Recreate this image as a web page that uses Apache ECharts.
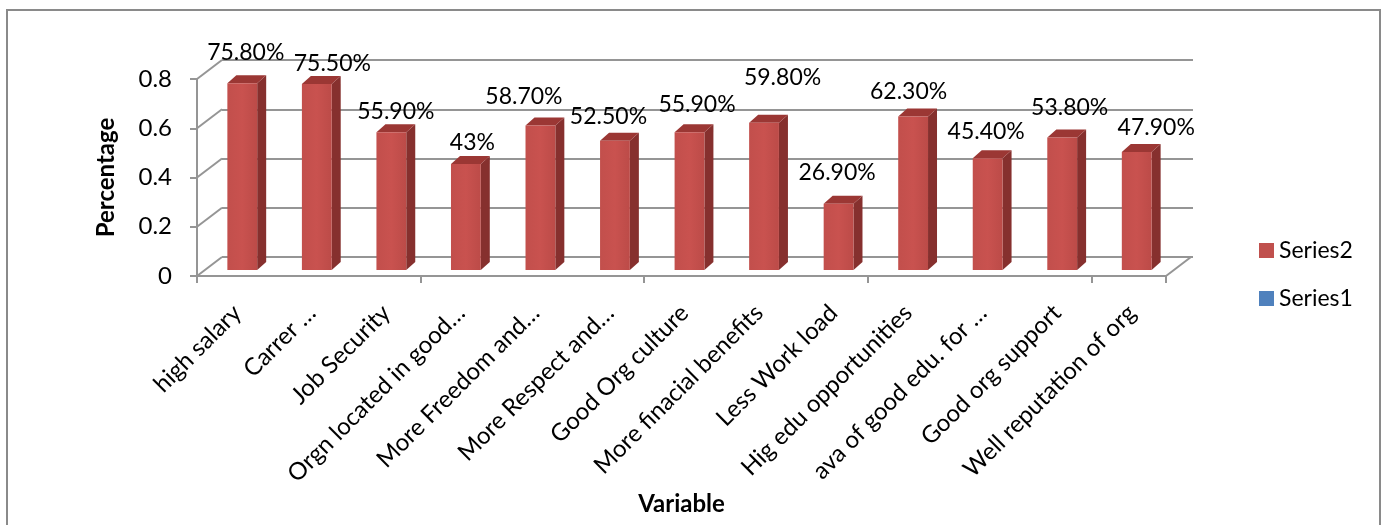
<!DOCTYPE html>
<html>
<head>
<meta charset="utf-8">
<script src="https://cdn.jsdelivr.net/npm/echarts@6/dist/echarts.min.js"></script>
<style>
  html, body { margin: 0; padding: 0; background: #fff; }
  #chart { width: 1382px; height: 525px; }
</style>
</head>
<body>
<div id="chart"></div>
<script>
// 数据
const categories = ['high salary', 'Carrer …', 'Job Security', 'Orgn located in good…', 'More Freedom and…',
  'More Respect and…', 'Good Org culture', 'More finacial benefits', 'Less Work load',
  'Hig edu opportunities', 'ava of good edu. for …', 'Good org support', 'Well reputation of org']
const series2Values = [0.758, 0.755, 0.559, 0.43, 0.587, 0.525, 0.559, 0.598, 0.269, 0.623, 0.454, 0.538, 0.479]
const series2Labels = ['75.80%', '75.50%', '55.90%', '43%', '58.70%', '52.50%', '55.90%', '59.80%', '26.90%', '62.30%', '45.40%', '53.80%', '47.90%']
const series1Values = []
const yTicks = [0, 0.2, 0.4, 0.6, 0.8]

// 标签的手动偏移（原图中标签位置不统一）
const labelNudgeX = [-1, 11, 0, 2, -21, -11, 3, 14, -6, -9, -6, 3, 15]
const labelNudgeY = [-5, 5, 5, 4, -3, 2, -2, -19, -5, 1, -1, -4, 2]

const FONT = 'Lato, "Open Sans", sans-serif'
const GRID_COLOR = '#959595'
const DEPTH_X = 25, DEPTH_Y = -19 // 背景墙的偏移
const BAR_DX = 9, BAR_DY = -8 // 柱子厚度

const chart = echarts.init(document.getElementById('chart'))

chart.setOption({
  animation: false,
  textStyle: { fontFamily: FONT },
  graphic: [{ // 外框
    type: 'rect',
    shape: { x: 7, y: 10, width: 1373, height: 530 },
    style: { fill: 'none', stroke: '#8a8a8a', lineWidth: 2 },
    silent: true
  }],
  legend: {
    orient: 'vertical',
    left: 1254,
    top: 234,
    itemWidth: 15,
    itemHeight: 15,
    itemGap: 25,
    icon: 'rect',
    textStyle: { fontSize: 23, lineHeight: 23, color: '#000', fontFamily: FONT },
    data: ['Series2', 'Series1']
  },
  grid: [
    { left: 197, top: 79, width: 969, height: 197 }, // 前面
    { left: 222, top: 60, width: 971, height: 197 }, // 背景墙
    { left: 200, top: 79, width: 969, height: 197 }  // 横轴标签
  ],
  xAxis: [{
    gridIndex: 0,
    type: 'category',
    data: categories,
    name: 'Variable',
    nameLocation: 'middle',
    nameGap: 216,
    nameTextStyle: { fontSize: 24, fontWeight: 'bold', color: '#000', fontFamily: FONT },
    axisLine: { lineStyle: { color: GRID_COLOR, width: 2 } },
    axisTick: { show: true, length: 7, lineStyle: { color: GRID_COLOR, width: 2 } },
    axisLabel: { show: false }
  }, {
    gridIndex: 1,
    type: 'category',
    data: categories,
    show: false
  }, {
    gridIndex: 2,
    type: 'category',
    data: categories,
    axisLine: { show: false },
    axisTick: { show: false },
    axisLabel: { interval: 0, rotate: 45, fontSize: 24, color: '#000', margin: 33, fontFamily: FONT }
  }],
  yAxis: [{
    gridIndex: 0,
    type: 'value',
    min: 0,
    max: 0.8,
    interval: 0.2,
    name: 'Percentage',
    nameLocation: 'middle',
    nameRotate: 90,
    nameGap: 79,
    nameTextStyle: { fontSize: 24, fontWeight: 'bold', color: '#000', fontFamily: FONT },
    axisLine: { show: true, lineStyle: { color: GRID_COLOR, width: 2 } },
    axisTick: { show: true, length: 7, lineStyle: { color: GRID_COLOR, width: 2 } },
    axisLabel: { fontSize: 24, color: '#000', margin: 25, fontFamily: FONT },
    splitLine: { show: false }
  }, {
    gridIndex: 1,
    type: 'value',
    min: 0,
    max: 0.8,
    interval: 0.2,
    axisLine: { show: false },
    axisTick: { show: false },
    axisLabel: { show: false },
    splitLine: { show: true, lineStyle: { color: GRID_COLOR, width: 2 } }
  }, {
    gridIndex: 2,
    type: 'value',
    min: 0,
    max: 0.8,
    show: false
  }],
  series: [{
    // 左侧墙的斜线和底面右侧斜线
    type: 'custom',
    xAxisIndex: 0,
    yAxisIndex: 0,
    silent: true,
    data: yTicks.map(v => [0, v]),
    renderItem(params, api) {
      const cs = params.coordSys
      const v = api.value(1)
      const y = api.coord([0, v])[1]
      const style = { stroke: GRID_COLOR, lineWidth: 2 }
      const children = [{
        type: 'line',
        shape: { x1: cs.x, y1: y, x2: cs.x + DEPTH_X, y2: y + DEPTH_Y },
        style
      }]
      if (v === 0) {
        children.push({
          type: 'line',
          shape: { x1: cs.x + cs.width, y1: y, x2: cs.x + cs.width + DEPTH_X, y2: y + DEPTH_Y },
          style
        })
      }
      return { type: 'group', children }
    }
  }, {
    name: 'Series2',
    type: 'custom',
    xAxisIndex: 0,
    yAxisIndex: 0,
    itemStyle: { color: '#C0504D' },
    data: series2Values,
    renderItem(params, api) {
      const i = params.dataIndex
      const base = api.coord([i, 0])
      const top = api.coord([i, api.value(1)])
      const w = api.size([1, 0])[0] * 0.4
      const fx = base[0] - w / 2 + 8
      const fy0 = base[1] - 6
      const fy1 = top[1] - 6
      return {
        type: 'group',
        children: [{
          type: 'polygon', // 侧面
          shape: { points: [[fx + w, fy1], [fx + w + BAR_DX, fy1 + BAR_DY], [fx + w + BAR_DX, fy0 + BAR_DY], [fx + w, fy0]] },
          style: { fill: '#86302E' }
        }, {
          type: 'polygon', // 顶面
          shape: { points: [[fx, fy1], [fx + BAR_DX, fy1 + BAR_DY], [fx + w + BAR_DX, fy1 + BAR_DY], [fx + w, fy1]] },
          style: { fill: '#9B3734' }
        }, {
          type: 'rect', // 正面
          shape: { x: fx, y: fy1, width: w, height: fy0 - fy1 },
          style: {
            fill: new echarts.graphic.LinearGradient(0, 0, 1, 0, [
              { offset: 0, color: '#C24F4C' },
              { offset: 0.5, color: '#C9524F' },
              { offset: 1, color: '#BC4B48' }
            ])
          }
        }, {
          type: 'text',
          style: {
            text: series2Labels[i],
            x: fx + w / 2 + BAR_DX / 2 + labelNudgeX[i],
            y: fy1 + BAR_DY - 18 + labelNudgeY[i],
            align: 'center',
            verticalAlign: 'middle',
            fontSize: 23,
            fontFamily: FONT,
            fill: '#000'
          }
        }]
      }
    }
  }, {
    name: 'Series1',
    type: 'custom',
    xAxisIndex: 0,
    yAxisIndex: 0,
    itemStyle: { color: '#4F81BD' },
    data: series1Values,
    renderItem() { return null }
  }]
})
</script>
</body>
</html>
